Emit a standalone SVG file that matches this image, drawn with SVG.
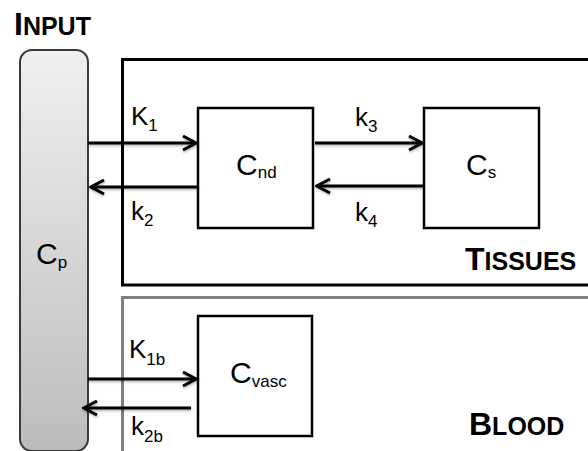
<svg xmlns="http://www.w3.org/2000/svg" width="588" height="451" viewBox="0 0 588 451">
<defs>
<linearGradient id="cpGrad" x1="0" y1="0" x2="0" y2="1">
<stop offset="0" stop-color="#f0f0f0"/>
<stop offset="1" stop-color="#bcbcbc"/>
</linearGradient>
<filter id="shadow" x="-10%" y="-50%" width="120%" height="200%">
<feDropShadow dx="0.5" dy="1.5" stdDeviation="1" flood-color="#000" flood-opacity="0.3"/>
</filter>
<marker id="arr" markerUnits="userSpaceOnUse" viewBox="-16 -9 18 18" refX="0" refY="0" markerWidth="18" markerHeight="18" orient="auto">
<path d="M-13,-7 L0,0 L-13,7" fill="none" stroke="#000" stroke-width="3" stroke-linejoin="miter"/>
</marker>
</defs>
<style>
text{font-family:"Liberation Sans",Arial,sans-serif;fill:#000}
.lbl{font-size:26px}
.cl{font-size:30px}
.sub{font-size:17px}
.title{font-weight:bold;font-size:32px}
.sc{font-size:25px}
.node{fill:#fff;stroke:#000;stroke-width:2.5}
.conn{stroke:#000;stroke-width:3;fill:none;marker-end:url(#arr)}
</style>

<g id="input-label">
<text class="title" x="14" y="35">I<tspan class="sc">NPUT</tspan></text>
</g>

<g id="tissues">
<rect x="122.5" y="59.5" width="480" height="225.5" fill="none" stroke="#000" stroke-width="3"/>
<text class="title" x="465" y="270">T<tspan class="sc">ISSUES</tspan></text>
</g>

<g id="blood">
<rect x="122.5" y="297.5" width="480" height="180" fill="none" stroke="#808080" stroke-width="3"/>
<text class="title" x="469" y="435">B<tspan class="sc">LOOD</tspan></text>
</g>

<g id="cp">
<rect x="20" y="50" width="68" height="401" rx="12" ry="12" fill="url(#cpGrad)" stroke="#3a3a3a" stroke-width="2"/>
<text class="cl" x="36" y="264">C<tspan class="sub" dy="4">p</tspan></text>
</g>

<g id="cnd">
<rect class="node" x="198" y="108" width="115" height="120"/>
<text class="cl" x="236" y="175">C<tspan class="sub" dy="3">nd</tspan></text>
</g>

<g id="cs">
<rect class="node" x="424" y="108" width="115" height="120"/>
<text class="cl" x="466" y="175">C<tspan class="sub" dy="3">s</tspan></text>
</g>

<g id="cvasc">
<rect class="node" x="198" y="316" width="114" height="120"/>
<text class="cl" x="230" y="383">C<tspan class="sub" dy="4">vasc</tspan></text>
</g>

<g id="connectors" filter="url(#shadow)">
<line class="conn" x1="88" y1="143" x2="196" y2="143"/>
<line class="conn" x1="198" y1="187" x2="91" y2="187"/>
<line class="conn" x1="315" y1="143" x2="422" y2="143"/>
<line class="conn" x1="424" y1="186" x2="317" y2="186"/>
<line class="conn" x1="88" y1="379" x2="196" y2="379"/>
<line class="conn" x1="191" y1="408" x2="84" y2="408"/>
</g>

<g id="labels">
<text class="lbl" x="131" y="125">K<tspan class="sub" dy="6">1</tspan></text>
<text class="lbl" x="131" y="220">k<tspan class="sub" dy="6">2</tspan></text>
<text class="lbl" x="355" y="126">k<tspan class="sub" dy="6">3</tspan></text>
<text class="lbl" x="355" y="221">k<tspan class="sub" dy="6">4</tspan></text>
<text class="lbl" x="129" y="358">K<tspan class="sub" dy="7">1b</tspan></text>
<text class="lbl" x="131" y="435">k<tspan class="sub" dy="7">2b</tspan></text>
</g>
</svg>
